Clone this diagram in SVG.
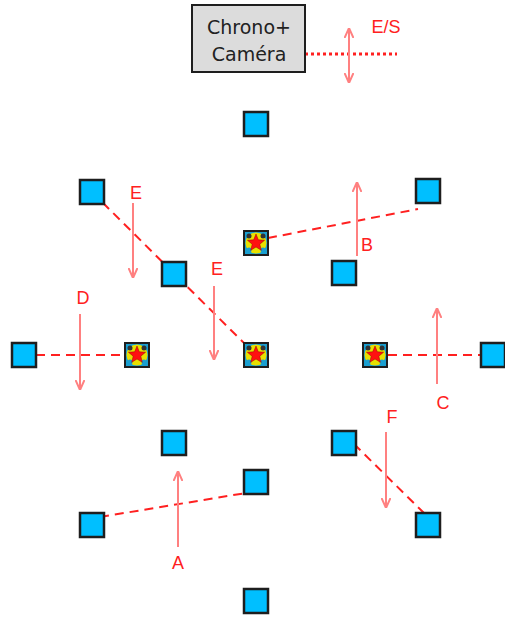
<svg xmlns="http://www.w3.org/2000/svg" width="505" height="642" viewBox="0 0 505 642">
<style>
.sq{fill:#00BFFF;stroke:#1e1e1e;stroke-width:2.5}
.stbox{fill:#2a2a1a;stroke:#1e1e1e;stroke-width:2}
.dash{stroke:#FF2020;stroke-width:2;stroke-dasharray:9,6;fill:none}
.arr{stroke:#FF8080;stroke-width:2;fill:none}
.lbl{font-family:"Liberation Sans",Arial,sans-serif;font-size:18px;fill:#FF2020;text-anchor:middle}
.box{fill:#DCDCDC;stroke:#1e1e1e;stroke-width:2}
.btxt{font-family:"DejaVu Sans",Verdana,sans-serif;font-size:19px;fill:#222;text-anchor:middle}
</style>
<defs>
<marker id="ah" viewBox="0 0 10 10" refX="10" refY="5" markerWidth="10" markerHeight="10" markerUnits="userSpaceOnUse" orient="auto-start-reverse">
<path d="M0,0.5 L10,5 L0,9.5" fill="none" stroke="#FF8080" stroke-width="2"/>
</marker>
<g id="star">
<rect x="-12" y="-12" width="24" height="24" class="stbox"/>
<rect x="-11" y="-11" width="22" height="22" fill="#1a9fd0"/>
<circle r="10.5" fill="#E8E000"/>
<circle cx="-7" cy="-7" r="2.5" fill="#333"/><circle cx="7" cy="-7" r="2.5" fill="#333"/>
<circle cx="-7" cy="7" r="2.5" fill="#1a9fd0"/><circle cx="7" cy="7" r="2.5" fill="#1a9fd0"/>
<path d="M0,-9 2.3,-3.2 8.6,-2.8 3.8,1.2 5.3,7.3 0,4 -5.3,7.3 -3.8,1.2 -8.6,-2.8 -2.3,-3.2Z" fill="#FF1010" stroke="#900" stroke-width="0.5"/>
</g>
</defs>
<g id="connectors">
<line x1="92" y1="192" x2="256" y2="355" class="dash"/>
<line x1="268" y1="238" x2="418" y2="209" class="dash"/>
<line x1="36" y1="355" x2="126" y2="355" class="dash"/>
<line x1="388" y1="355" x2="481" y2="355" class="dash"/>
<line x1="354" y1="444" x2="428" y2="517" class="dash"/>
<line x1="100" y1="517" x2="246" y2="493" class="dash"/>
<line x1="305" y1="54" x2="397" y2="54" stroke="#FF2020" stroke-width="3" stroke-dasharray="3,3"/>
<line x1="349" y1="28" x2="349" y2="83" class="arr" marker-start="url(#ah)" marker-end="url(#ah)"/>
<line x1="178" y1="547" x2="178" y2="471" class="arr" marker-end="url(#ah)"/>
<line x1="357" y1="256" x2="357" y2="182" class="arr" marker-end="url(#ah)"/>
<line x1="437" y1="384" x2="437" y2="308" class="arr" marker-end="url(#ah)"/>
<line x1="80" y1="314" x2="80" y2="390" class="arr" marker-end="url(#ah)"/>
<line x1="133" y1="203" x2="133" y2="278" class="arr" marker-end="url(#ah)"/>
<line x1="214" y1="286" x2="214" y2="360" class="arr" marker-end="url(#ah)"/>
<line x1="386" y1="432" x2="386" y2="508" class="arr" marker-end="url(#ah)"/>
</g>
<g id="labels">
<text x="386" y="33" class="lbl">E/S</text>
<text x="178" y="569" class="lbl">A</text>
<text x="367" y="251" class="lbl">B</text>
<text x="443" y="409" class="lbl">C</text>
<text x="83" y="304" class="lbl">D</text>
<text x="136" y="199" class="lbl">E</text>
<text x="217" y="275" class="lbl">E</text>
<text x="392" y="423" class="lbl">F</text>
</g>
<g id="chrono">
<rect x="192" y="5" width="113" height="67" class="box"/>
<text x="249" y="34" class="btxt">Chrono+</text>
<text x="249" y="61" class="btxt">Caméra</text>
</g>
<g id="n1"><rect x="244" y="112" width="24" height="24" class="sq"/></g>
<g id="n2"><rect x="80" y="180" width="24" height="24" class="sq"/></g>
<g id="n3"><rect x="416" y="179" width="24" height="24" class="sq"/></g>
<g id="s1"><use href="#star" x="256" y="243"/></g>
<g id="n4"><rect x="162" y="262" width="24" height="24" class="sq"/></g>
<g id="n5"><rect x="332" y="261" width="24" height="24" class="sq"/></g>
<g id="n6"><rect x="12" y="343" width="24" height="24" class="sq"/></g>
<g id="s2"><use href="#star" x="137" y="355"/></g>
<g id="s3"><use href="#star" x="256" y="355"/></g>
<g id="s4"><use href="#star" x="375" y="355"/></g>
<g id="n7"><rect x="481" y="343" width="24" height="24" class="sq"/></g>
<g id="n8"><rect x="162" y="431" width="24" height="24" class="sq"/></g>
<g id="n9"><rect x="332" y="431" width="24" height="24" class="sq"/></g>
<g id="n10"><rect x="244" y="470" width="24" height="24" class="sq"/></g>
<g id="n11"><rect x="80" y="513" width="24" height="24" class="sq"/></g>
<g id="n12"><rect x="416" y="513" width="24" height="24" class="sq"/></g>
<g id="n13"><rect x="244" y="589" width="24" height="24" class="sq"/></g>
</svg>
